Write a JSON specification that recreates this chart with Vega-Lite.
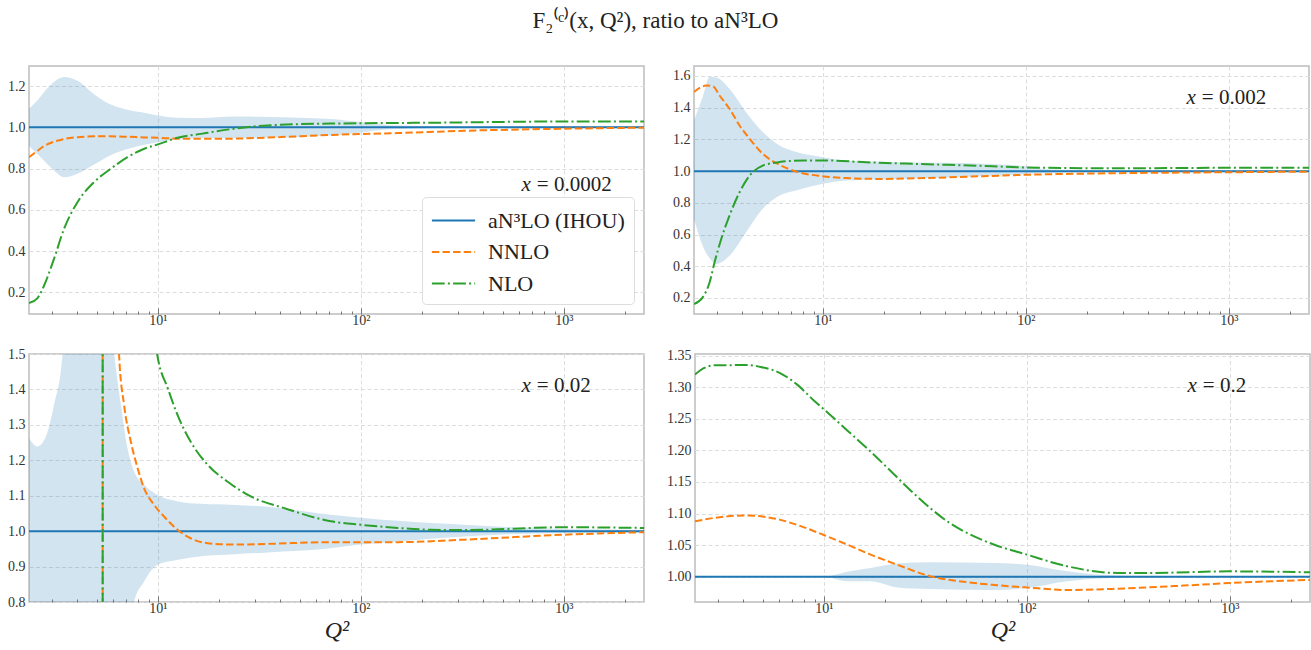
{
 "$schema": "https://vega.github.io/schema/vega-lite/v6.json",
 "padding": {"left": 0, "top": 10, "right": 4, "bottom": 2},
 "background": "white",
 "title": {"text": "F₂⁽ᶜ⁾(x, Q²), ratio to aN³LO", "font": "Liberation Serif", "fontSize": 23, "fontWeight": "normal", "anchor": "middle", "offset": 32, "color": "#222222"},
 "config": {
  "font": "Liberation Serif",
  "view": {"stroke": "#bdbdbd", "strokeWidth": 1.5},
  "axis": {"domain": false, "grid": true, "gridColor": "#dddddd", "gridDash": [4, 2.5], "gridWidth": 1, "labelFont": "Liberation Serif", "labelFontSize": 14, "labelColor": "#333333", "titleFont": "Liberation Serif", "titleFontWeight": "normal", "titleColor": "#222222", "tickColor": "#777777", "tickWidth": 1},
  "text": {"font": "Liberation Serif", "color": "#222222"}
 },
 "datasets": {
  "lines": [
   {"p":"TL","s":"aN³LO (IHOU)","q":2.32,"v":1},{"p":"TL","s":"aN³LO (IHOU)","q":2480,"v":1},
   {"p":"TL","s":"NNLO","q":2.32,"v":0.855},{"p":"TL","s":"NNLO","q":2.55,"v":0.885},{"p":"TL","s":"NNLO","q":2.75,"v":0.909},{"p":"TL","s":"NNLO","q":3.08,"v":0.93},{"p":"TL","s":"NNLO","q":3.45,"v":0.943},{"p":"TL","s":"NNLO","q":4.02,"v":0.952},{"p":"TL","s":"NNLO","q":4.85,"v":0.956},{"p":"TL","s":"NNLO","q":5.86,"v":0.956},{"p":"TL","s":"NNLO","q":7.09,"v":0.954},{"p":"TL","s":"NNLO","q":8.57,"v":0.951},{"p":"TL","s":"NNLO","q":10,"v":0.949},{"p":"TL","s":"NNLO","q":12.5,"v":0.945},{"p":"TL","s":"NNLO","q":16.3,"v":0.944},{"p":"TL","s":"NNLO","q":23.8,"v":0.945},{"p":"TL","s":"NNLO","q":34.7,"v":0.95},{"p":"TL","s":"NNLO","q":71,"v":0.963},{"p":"TL","s":"NNLO","q":152,"v":0.972},{"p":"TL","s":"NNLO","q":323,"v":0.983},{"p":"TL","s":"NNLO","q":1000,"v":0.993},{"p":"TL","s":"NNLO","q":2480,"v":0.998},
   {"p":"TL","s":"NLO","q":2.32,"v":0.148},{"p":"TL","s":"NLO","q":2.55,"v":0.171},{"p":"TL","s":"NLO","q":2.75,"v":0.232},{"p":"TL","s":"NLO","q":3.08,"v":0.362},{"p":"TL","s":"NLO","q":3.45,"v":0.507},{"p":"TL","s":"NLO","q":4.02,"v":0.637},{"p":"TL","s":"NLO","q":4.85,"v":0.734},{"p":"TL","s":"NLO","q":5.86,"v":0.799},{"p":"TL","s":"NLO","q":7.09,"v":0.855},{"p":"TL","s":"NLO","q":8.57,"v":0.896},{"p":"TL","s":"NLO","q":10,"v":0.917},{"p":"TL","s":"NLO","q":12.5,"v":0.949},{"p":"TL","s":"NLO","q":16.3,"v":0.968},{"p":"TL","s":"NLO","q":23.8,"v":0.993},{"p":"TL","s":"NLO","q":34.7,"v":1.009},{"p":"TL","s":"NLO","q":71,"v":1.018},{"p":"TL","s":"NLO","q":221,"v":1.022},{"p":"TL","s":"NLO","q":1000,"v":1.028},{"p":"TL","s":"NLO","q":2480,"v":1.028},

   {"p":"TR","s":"aN³LO (IHOU)","q":2.32,"v":1},{"p":"TR","s":"aN³LO (IHOU)","q":2480,"v":1},
   {"p":"TR","s":"NNLO","q":2.32,"v":1.499},{"p":"TR","s":"NNLO","q":2.52,"v":1.53},{"p":"TR","s":"NNLO","q":2.66,"v":1.54},{"p":"TR","s":"NNLO","q":2.87,"v":1.535},{"p":"TR","s":"NNLO","q":3.1,"v":1.477},{"p":"TR","s":"NNLO","q":3.47,"v":1.393},{"p":"TR","s":"NNLO","q":3.89,"v":1.288},{"p":"TR","s":"NNLO","q":4.36,"v":1.204},{"p":"TR","s":"NNLO","q":5.06,"v":1.109},{"p":"TR","s":"NNLO","q":6.12,"v":1.04},{"p":"TR","s":"NNLO","q":7.39,"v":0.997},{"p":"TR","s":"NNLO","q":10,"v":0.968},{"p":"TR","s":"NNLO","q":13,"v":0.956},{"p":"TR","s":"NNLO","q":19,"v":0.951},{"p":"TR","s":"NNLO","q":33.6,"v":0.957},{"p":"TR","s":"NNLO","q":61.4,"v":0.968},{"p":"TR","s":"NNLO","q":100,"v":0.977},{"p":"TR","s":"NNLO","q":279,"v":0.987},{"p":"TR","s":"NNLO","q":1000,"v":0.993},{"p":"TR","s":"NNLO","q":2480,"v":0.997},
   {"p":"TR","s":"NLO","q":2.32,"v":0.162},{"p":"TR","s":"NLO","q":2.56,"v":0.204},{"p":"TR","s":"NLO","q":2.77,"v":0.299},{"p":"TR","s":"NLO","q":2.93,"v":0.425},{"p":"TR","s":"NLO","q":3.16,"v":0.572},{"p":"TR","s":"NLO","q":3.47,"v":0.72},{"p":"TR","s":"NLO","q":3.89,"v":0.867},{"p":"TR","s":"NLO","q":4.36,"v":0.972},{"p":"TR","s":"NLO","q":5.06,"v":1.035},{"p":"TR","s":"NLO","q":6.12,"v":1.057},{"p":"TR","s":"NLO","q":7.96,"v":1.067},{"p":"TR","s":"NLO","q":10.8,"v":1.067},{"p":"TR","s":"NLO","q":15.7,"v":1.057},{"p":"TR","s":"NLO","q":27.7,"v":1.046},{"p":"TR","s":"NLO","q":68.7,"v":1.031},{"p":"TR","s":"NLO","q":100,"v":1.023},{"p":"TR","s":"NLO","q":279,"v":1.018},{"p":"TR","s":"NLO","q":1000,"v":1.021},{"p":"TR","s":"NLO","q":2480,"v":1.021},

   {"p":"BL","s":"aN³LO (IHOU)","q":2.32,"v":1},{"p":"BL","s":"aN³LO (IHOU)","q":2480,"v":1},
   {"p":"BL","s":"NNLO","q":2.32,"v":-5},{"p":"BL","s":"NNLO","q":4,"v":-10},{"p":"BL","s":"NNLO","q":5.349,"v":-100},{"p":"BL","s":"NNLO","q":5.351,"v":100},{"p":"BL","s":"NNLO","q":5.8,"v":4},{"p":"BL","s":"NNLO","q":6.44,"v":1.5},{"p":"BL","s":"NNLO","q":6.82,"v":1.356},{"p":"BL","s":"NNLO","q":7.36,"v":1.253},{"p":"BL","s":"NNLO","q":7.95,"v":1.178},{"p":"BL","s":"NNLO","q":8.56,"v":1.121},{"p":"BL","s":"NNLO","q":9.59,"v":1.074},{"p":"BL","s":"NNLO","q":10.7,"v":1.042},{"p":"BL","s":"NNLO","q":12.5,"v":1.004},{"p":"BL","s":"NNLO","q":14.5,"v":0.98},{"p":"BL","s":"NNLO","q":17.6,"v":0.966},{"p":"BL","s":"NNLO","q":23.8,"v":0.962},{"p":"BL","s":"NNLO","q":34.7,"v":0.964},{"p":"BL","s":"NNLO","q":71.1,"v":0.969},{"p":"BL","s":"NNLO","q":152,"v":0.969},{"p":"BL","s":"NNLO","q":323,"v":0.976},{"p":"BL","s":"NNLO","q":1000,"v":0.99},{"p":"BL","s":"NNLO","q":2480,"v":0.997},
   {"p":"BL","s":"NLO","q":2.32,"v":-5},{"p":"BL","s":"NLO","q":4,"v":-10},{"p":"BL","s":"NLO","q":5.349,"v":-100},{"p":"BL","s":"NLO","q":5.351,"v":100},{"p":"BL","s":"NLO","q":7,"v":3},{"p":"BL","s":"NLO","q":9,"v":1.7},{"p":"BL","s":"NLO","q":9.97,"v":1.493},{"p":"BL","s":"NLO","q":11.2,"v":1.403},{"p":"BL","s":"NLO","q":12.5,"v":1.328},{"p":"BL","s":"NLO","q":14.5,"v":1.253},{"p":"BL","s":"NLO","q":17.6,"v":1.187},{"p":"BL","s":"NLO","q":22,"v":1.14},{"p":"BL","s":"NLO","q":28.7,"v":1.098},{"p":"BL","s":"NLO","q":41.9,"v":1.065},{"p":"BL","s":"NLO","q":71.1,"v":1.028},{"p":"BL","s":"NLO","q":100,"v":1.018},{"p":"BL","s":"NLO","q":152,"v":1.009},{"p":"BL","s":"NLO","q":221,"v":1.004},{"p":"BL","s":"NLO","q":323,"v":1.003},{"p":"BL","s":"NLO","q":1000,"v":1.011},{"p":"BL","s":"NLO","q":2480,"v":1.009},

   {"p":"BR","s":"aN³LO (IHOU)","q":2.32,"v":1},{"p":"BR","s":"aN³LO (IHOU)","q":2480,"v":1},
   {"p":"BR","s":"NNLO","q":2.32,"v":1.0876},{"p":"BR","s":"NNLO","q":2.87,"v":1.093},{"p":"BR","s":"NNLO","q":4.19,"v":1.097},{"p":"BR","s":"NNLO","q":5.06,"v":1.095},{"p":"BR","s":"NNLO","q":6.12,"v":1.09},{"p":"BR","s":"NNLO","q":7.39,"v":1.082},{"p":"BR","s":"NNLO","q":10,"v":1.066},{"p":"BR","s":"NNLO","q":13,"v":1.051},{"p":"BR","s":"NNLO","q":17,"v":1.035},{"p":"BR","s":"NNLO","q":23,"v":1.019},{"p":"BR","s":"NNLO","q":33.6,"v":1.0006},{"p":"BR","s":"NNLO","q":48.9,"v":0.992},{"p":"BR","s":"NNLO","q":68.7,"v":0.987},{"p":"BR","s":"NNLO","q":100,"v":0.983},{"p":"BR","s":"NNLO","q":158,"v":0.979},{"p":"BR","s":"NNLO","q":279,"v":0.981},{"p":"BR","s":"NNLO","q":593,"v":0.986},{"p":"BR","s":"NNLO","q":1000,"v":0.99},{"p":"BR","s":"NNLO","q":2480,"v":0.995},
   {"p":"BR","s":"NLO","q":2.32,"v":1.32},{"p":"BR","s":"NLO","q":2.56,"v":1.33},{"p":"BR","s":"NLO","q":2.87,"v":1.3345},{"p":"BR","s":"NLO","q":4.19,"v":1.335},{"p":"BR","s":"NLO","q":4.88,"v":1.332},{"p":"BR","s":"NLO","q":6.12,"v":1.322},{"p":"BR","s":"NLO","q":7.39,"v":1.304},{"p":"BR","s":"NLO","q":8.93,"v":1.279},{"p":"BR","s":"NLO","q":10,"v":1.265},{"p":"BR","s":"NLO","q":13,"v":1.232},{"p":"BR","s":"NLO","q":17,"v":1.198},{"p":"BR","s":"NLO","q":23,"v":1.157},{"p":"BR","s":"NLO","q":27.7,"v":1.132},{"p":"BR","s":"NLO","q":33.6,"v":1.108},{"p":"BR","s":"NLO","q":40.4,"v":1.088},{"p":"BR","s":"NLO","q":48.9,"v":1.072},{"p":"BR","s":"NLO","q":68.7,"v":1.051},{"p":"BR","s":"NLO","q":100,"v":1.035},{"p":"BR","s":"NLO","q":158,"v":1.0165},{"p":"BR","s":"NLO","q":279,"v":1.006},{"p":"BR","s":"NLO","q":406,"v":1.006},{"p":"BR","s":"NLO","q":1000,"v":1.0085},{"p":"BR","s":"NLO","q":2480,"v":1.007}
  ],
  "bands": [
   {"p":"TL","q":2.32,"v":0.909,"v2":1.09},{"p":"TL","q":2.55,"v":0.87,"v2":1.13},{"p":"TL","q":2.8,"v":0.83,"v2":1.18},{"p":"TL","q":3.08,"v":0.79,"v2":1.22},{"p":"TL","q":3.45,"v":0.758,"v2":1.244},{"p":"TL","q":4.02,"v":0.775,"v2":1.225},{"p":"TL","q":4.85,"v":0.82,"v2":1.16},{"p":"TL","q":5.86,"v":0.865,"v2":1.11},{"p":"TL","q":7.09,"v":0.895,"v2":1.085},{"p":"TL","q":8.57,"v":0.915,"v2":1.07},{"p":"TL","q":10,"v":0.928,"v2":1.057},{"p":"TL","q":12.5,"v":0.942,"v2":1.046},{"p":"TL","q":16.3,"v":0.948,"v2":1.045},{"p":"TL","q":23.8,"v":0.948,"v2":1.052},{"p":"TL","q":34.7,"v":0.95,"v2":1.05},{"p":"TL","q":71,"v":0.96,"v2":1.04},{"p":"TL","q":100,"v":0.975,"v2":1.025},{"p":"TL","q":140,"v":0.99,"v2":1.01},{"p":"TL","q":250,"v":0.995,"v2":1.005},{"p":"TL","q":2480,"v":0.996,"v2":1.004},
   {"p":"TR","q":2.32,"v":0.7,"v2":1.32},{"p":"TR","q":2.56,"v":0.53,"v2":1.468},{"p":"TR","q":2.77,"v":0.45,"v2":1.593},{"p":"TR","q":2.98,"v":0.415,"v2":1.59},{"p":"TR","q":3.47,"v":0.467,"v2":1.519},{"p":"TR","q":4.19,"v":0.615,"v2":1.372},{"p":"TR","q":5.06,"v":0.762,"v2":1.246},{"p":"TR","q":6.12,"v":0.846,"v2":1.161},{"p":"TR","q":7.39,"v":0.878,"v2":1.12},{"p":"TR","q":10,"v":0.92,"v2":1.088},{"p":"TR","q":13,"v":0.941,"v2":1.067},{"p":"TR","q":23,"v":0.951,"v2":1.057},{"p":"TR","q":61.4,"v":0.968,"v2":1.046},{"p":"TR","q":100,"v":0.982,"v2":1.031},{"p":"TR","q":131,"v":0.99,"v2":1.01},{"p":"TR","q":250,"v":0.995,"v2":1.005},{"p":"TR","q":2480,"v":0.997,"v2":1.003},
   {"p":"BL","q":2.32,"v":0.5,"v2":1.262},{"p":"BL","q":2.55,"v":0.5,"v2":1.239},{"p":"BL","q":2.81,"v":0.5,"v2":1.267},{"p":"BL","q":3.08,"v":0.5,"v2":1.356},{"p":"BL","q":3.39,"v":0.5,"v2":1.497},{"p":"BL","q":3.6,"v":0.5,"v2":1.8},{"p":"BL","q":5.5,"v":0.5,"v2":1.8},{"p":"BL","q":6.1,"v":0.5,"v2":1.5},{"p":"BL","q":6.58,"v":0.55,"v2":1.356},{"p":"BL","q":7.09,"v":0.7,"v2":1.234},{"p":"BL","q":7.64,"v":0.8,"v2":1.168},{"p":"BL","q":8.56,"v":0.858,"v2":1.131},{"p":"BL","q":9.97,"v":0.905,"v2":1.102},{"p":"BL","q":12.6,"v":0.919,"v2":1.084},{"p":"BL","q":16.3,"v":0.929,"v2":1.077},{"p":"BL","q":23.8,"v":0.935,"v2":1.074},{"p":"BL","q":34.7,"v":0.94,"v2":1.069},{"p":"BL","q":71,"v":0.952,"v2":1.046},{"p":"BL","q":100,"v":0.962,"v2":1.038},{"p":"BL","q":152,"v":0.971,"v2":1.029},{"p":"BL","q":323,"v":0.985,"v2":1.018},{"p":"BL","q":1000,"v":0.995,"v2":1.006},{"p":"BL","q":2480,"v":0.996,"v2":1.004},
   {"p":"BR","q":2.32,"v":1,"v2":1},{"p":"BR","q":10,"v":1,"v2":1},{"p":"BR","q":13,"v":0.993,"v2":1.008},{"p":"BR","q":17,"v":0.9927,"v2":1.0138},{"p":"BR","q":23,"v":0.983,"v2":1.021},{"p":"BR","q":33.6,"v":0.9805,"v2":1.023},{"p":"BR","q":68.7,"v":0.979,"v2":1.0217},{"p":"BR","q":100,"v":0.982,"v2":1.019},{"p":"BR","q":158,"v":0.9927,"v2":1.0085},{"p":"BR","q":231,"v":0.997,"v2":1.003},{"p":"BR","q":400,"v":0.999,"v2":1.001},{"p":"BR","q":2480,"v":0.9995,"v2":1.0005}
  ],
  "notes": [
   {"p":"TL","q":711,"v":0.692,"a":"x","b":"= 0.0002"},
   {"p":"TR","q":711,"v":1.425,"a":"x","b":"= 0.002"},
   {"p":"BL","q":711,"v":1.394,"a":"x","b":"= 0.02"},
   {"p":"BR","q":711,"v":1.293,"a":"x","b":"= 0.2"}
  ]
 },
 "spacing": 11,
 "resolve": {"scale": {"x": "independent", "y": "independent", "color": "independent", "strokeDash": "independent"}},
 "vconcat": [
  {
   "spacing": 20,
   "resolve": {"scale": {"x": "independent", "y": "independent", "color": "independent", "strokeDash": "independent"}},
   "hconcat": [
    {
     "width": 615, "height": 248,
     "encoding": {
      "x": {"field": "q", "type": "quantitative", "scale": {"type": "log", "domain": [2.32, 2480], "nice": false},
            "axis": {"title": null, "values": [3,4,5,6,7,8,9,10,20,30,40,50,60,70,80,90,100,200,300,400,500,600,700,800,900,1000,2000], "labelExpr": "datum.value==10?'10¹':datum.value==100?'10²':datum.value==1000?'10³':''", "gridOpacity": {"condition": {"test": "datum.value==10||datum.value==100||datum.value==1000", "value": 1}, "value": 0}, "tickSize": {"condition": {"test": "datum.value==10||datum.value==100||datum.value==1000", "value": -6}, "value": -3}, "labelPadding": 5, "labelOverlap": false, "labelFlush": false, "minExtent": 20, "maxExtent": 20}},
      "y": {"field": "v", "type": "quantitative", "scale": {"domain": [0.095, 1.297], "nice": false, "zero": false},
            "axis": {"title": null, "values": [0.2, 0.4, 0.6, 0.8, 1.0, 1.2], "format": ".1f", "ticks": false, "labelPadding": 4, "minExtent": 28, "maxExtent": 28}}
     },
     "layer": [
      {"data": {"name": "bands"}, "transform": [{"filter": "datum.p=='TL'"}], "mark": {"type": "area", "color": "#1f77b4", "opacity": 0.2, "clip": true, "interpolate": "monotone"}, "encoding": {"y2": {"field": "v2"}}},
      {"data": {"name": "lines"}, "transform": [{"filter": "datum.p=='TL'"}], "mark": {"type": "line", "clip": true, "strokeWidth": 2, "interpolate": "monotone"},
       "encoding": {
        "color": {"field": "s", "type": "nominal", "scale": {"domain": ["aN³LO (IHOU)", "NNLO", "NLO"], "range": ["#1f77b4", "#ff7f0e", "#2ca02c"]},
                  "legend": {"title": null, "orient": "bottom-right", "offset": 10, "symbolType": "M-1.6,0H1.6", "symbolSize": 729, "symbolStrokeWidth": 2, "labelFont": "Liberation Serif", "labelFontSize": 22, "labelColor": "#222222", "padding": 9, "fillColor": "white", "strokeColor": "#dddddd", "cornerRadius": 4, "rowPadding": 5.5, "labelOffset": 20, "symbolOffset": 8}},
        "strokeDash": {"field": "s", "type": "nominal", "scale": {"domain": ["aN³LO (IHOU)", "NNLO", "NLO"], "range": [[1, 0], [7.4, 3.2], [12.8, 3.2, 2, 3.2]]},
                  "legend": {"title": null, "orient": "bottom-right", "offset": 10, "symbolType": "M-1.6,0H1.6", "symbolSize": 729, "symbolStrokeWidth": 2, "labelFont": "Liberation Serif", "labelFontSize": 22, "labelColor": "#222222", "padding": 9, "fillColor": "white", "strokeColor": "#dddddd", "cornerRadius": 4, "rowPadding": 5.5, "labelOffset": 20, "symbolOffset": 8}}
       }},
      {"data": {"name": "notes"}, "transform": [{"filter": "datum.p=='TL'"}], "mark": {"type": "text", "align": "right", "baseline": "alphabetic", "dx": -3, "fontStyle": "italic", "fontSize": 21}, "encoding": {"text": {"field": "a"}}},
      {"data": {"name": "notes"}, "transform": [{"filter": "datum.p=='TL'"}], "mark": {"type": "text", "align": "left", "baseline": "alphabetic", "dx": 3, "fontSize": 21}, "encoding": {"text": {"field": "b"}}}
     ]
    },
    {
     "width": 615, "height": 248,
     "encoding": {
      "x": {"field": "q", "type": "quantitative", "scale": {"type": "log", "domain": [2.32, 2480], "nice": false},
            "axis": {"title": null, "values": [3,4,5,6,7,8,9,10,20,30,40,50,60,70,80,90,100,200,300,400,500,600,700,800,900,1000,2000], "labelExpr": "datum.value==10?'10¹':datum.value==100?'10²':datum.value==1000?'10³':''", "gridOpacity": {"condition": {"test": "datum.value==10||datum.value==100||datum.value==1000", "value": 1}, "value": 0}, "tickSize": {"condition": {"test": "datum.value==10||datum.value==100||datum.value==1000", "value": -6}, "value": -3}, "labelPadding": 5, "labelOverlap": false, "labelFlush": false, "minExtent": 20, "maxExtent": 20}},
      "y": {"field": "v", "type": "quantitative", "scale": {"domain": [0.099, 1.663], "nice": false, "zero": false},
            "axis": {"title": null, "values": [0.2, 0.4, 0.6, 0.8, 1.0, 1.2, 1.4, 1.6], "format": ".1f", "ticks": false, "labelPadding": 4, "minExtent": 28, "maxExtent": 28}}
     },
     "layer": [
      {"data": {"name": "bands"}, "transform": [{"filter": "datum.p=='TR'"}], "mark": {"type": "area", "color": "#1f77b4", "opacity": 0.2, "clip": true, "interpolate": "monotone"}, "encoding": {"y2": {"field": "v2"}}},
      {"data": {"name": "lines"}, "transform": [{"filter": "datum.p=='TR'"}], "mark": {"type": "line", "clip": true, "strokeWidth": 2, "interpolate": "monotone"},
       "encoding": {
        "color": {"field": "s", "type": "nominal", "scale": {"domain": ["aN³LO (IHOU)", "NNLO", "NLO"], "range": ["#1f77b4", "#ff7f0e", "#2ca02c"]}, "legend": null},
        "strokeDash": {"field": "s", "type": "nominal", "scale": {"domain": ["aN³LO (IHOU)", "NNLO", "NLO"], "range": [[1, 0], [7.4, 3.2], [12.8, 3.2, 2, 3.2]]}, "legend": null}
       }},
      {"data": {"name": "notes"}, "transform": [{"filter": "datum.p=='TR'"}], "mark": {"type": "text", "align": "right", "baseline": "alphabetic", "dx": -3, "fontStyle": "italic", "fontSize": 21}, "encoding": {"text": {"field": "a"}}},
      {"data": {"name": "notes"}, "transform": [{"filter": "datum.p=='TR'"}], "mark": {"type": "text", "align": "left", "baseline": "alphabetic", "dx": 3, "fontSize": 21}, "encoding": {"text": {"field": "b"}}}
     ]
    }
   ]
  },
  {
   "spacing": 20,
   "resolve": {"scale": {"x": "independent", "y": "independent", "color": "independent", "strokeDash": "independent"}},
   "hconcat": [
    {
     "width": 615, "height": 248,
     "encoding": {
      "x": {"field": "q", "type": "quantitative", "scale": {"type": "log", "domain": [2.32, 2480], "nice": false},
            "axis": {"title": "Q²", "titleFontSize": 24, "titleFontStyle": "italic", "titlePadding": 0, "values": [3,4,5,6,7,8,9,10,20,30,40,50,60,70,80,90,100,200,300,400,500,600,700,800,900,1000,2000], "labelExpr": "datum.value==10?'10¹':datum.value==100?'10²':datum.value==1000?'10³':''", "gridOpacity": {"condition": {"test": "datum.value==10||datum.value==100||datum.value==1000", "value": 1}, "value": 0}, "tickSize": {"condition": {"test": "datum.value==10||datum.value==100||datum.value==1000", "value": -6}, "value": -3}, "labelPadding": 5, "labelOverlap": false, "labelFlush": false}},
      "y": {"field": "v", "type": "quantitative", "scale": {"domain": [0.8, 1.5], "nice": false, "zero": false},
            "axis": {"title": null, "values": [0.8, 0.9, 1.0, 1.1, 1.2, 1.3, 1.4, 1.5], "format": ".1f", "ticks": false, "labelPadding": 4, "minExtent": 28, "maxExtent": 28}}
     },
     "layer": [
      {"data": {"name": "bands"}, "transform": [{"filter": "datum.p=='BL'"}], "mark": {"type": "area", "color": "#1f77b4", "opacity": 0.2, "clip": true, "interpolate": "monotone"}, "encoding": {"y2": {"field": "v2"}}},
      {"data": {"name": "lines"}, "transform": [{"filter": "datum.p=='BL'"}], "mark": {"type": "line", "clip": true, "strokeWidth": 2, "interpolate": "monotone"},
       "encoding": {
        "color": {"field": "s", "type": "nominal", "scale": {"domain": ["aN³LO (IHOU)", "NNLO", "NLO"], "range": ["#1f77b4", "#ff7f0e", "#2ca02c"]}, "legend": null},
        "strokeDash": {"field": "s", "type": "nominal", "scale": {"domain": ["aN³LO (IHOU)", "NNLO", "NLO"], "range": [[1, 0], [7.4, 3.2], [12.8, 3.2, 2, 3.2]]}, "legend": null}
       }},
      {"data": {"name": "notes"}, "transform": [{"filter": "datum.p=='BL'"}], "mark": {"type": "text", "align": "right", "baseline": "alphabetic", "dx": -3, "fontStyle": "italic", "fontSize": 21}, "encoding": {"text": {"field": "a"}}},
      {"data": {"name": "notes"}, "transform": [{"filter": "datum.p=='BL'"}], "mark": {"type": "text", "align": "left", "baseline": "alphabetic", "dx": 3, "fontSize": 21}, "encoding": {"text": {"field": "b"}}}
     ]
    },
    {
     "width": 615, "height": 248,
     "encoding": {
      "x": {"field": "q", "type": "quantitative", "scale": {"type": "log", "domain": [2.32, 2480], "nice": false},
            "axis": {"title": "Q²", "titleFontSize": 24, "titleFontStyle": "italic", "titlePadding": 0, "values": [3,4,5,6,7,8,9,10,20,30,40,50,60,70,80,90,100,200,300,400,500,600,700,800,900,1000,2000], "labelExpr": "datum.value==10?'10¹':datum.value==100?'10²':datum.value==1000?'10³':''", "gridOpacity": {"condition": {"test": "datum.value==10||datum.value==100||datum.value==1000", "value": 1}, "value": 0}, "tickSize": {"condition": {"test": "datum.value==10||datum.value==100||datum.value==1000", "value": -6}, "value": -3}, "labelPadding": 5, "labelOverlap": false, "labelFlush": false}},
      "y": {"field": "v", "type": "quantitative", "scale": {"domain": [0.96, 1.3525], "nice": false, "zero": false},
            "axis": {"title": null, "values": [1.0, 1.05, 1.1, 1.15, 1.2, 1.25, 1.3, 1.35], "format": ".2f", "ticks": false, "labelPadding": 4, "minExtent": 28, "maxExtent": 28}}
     },
     "layer": [
      {"data": {"name": "bands"}, "transform": [{"filter": "datum.p=='BR'"}], "mark": {"type": "area", "color": "#1f77b4", "opacity": 0.2, "clip": true, "interpolate": "monotone"}, "encoding": {"y2": {"field": "v2"}}},
      {"data": {"name": "lines"}, "transform": [{"filter": "datum.p=='BR'"}], "mark": {"type": "line", "clip": true, "strokeWidth": 2, "interpolate": "monotone"},
       "encoding": {
        "color": {"field": "s", "type": "nominal", "scale": {"domain": ["aN³LO (IHOU)", "NNLO", "NLO"], "range": ["#1f77b4", "#ff7f0e", "#2ca02c"]}, "legend": null},
        "strokeDash": {"field": "s", "type": "nominal", "scale": {"domain": ["aN³LO (IHOU)", "NNLO", "NLO"], "range": [[1, 0], [7.4, 3.2], [12.8, 3.2, 2, 3.2]]}, "legend": null}
       }},
      {"data": {"name": "notes"}, "transform": [{"filter": "datum.p=='BR'"}], "mark": {"type": "text", "align": "right", "baseline": "alphabetic", "dx": -3, "fontStyle": "italic", "fontSize": 21}, "encoding": {"text": {"field": "a"}}},
      {"data": {"name": "notes"}, "transform": [{"filter": "datum.p=='BR'"}], "mark": {"type": "text", "align": "left", "baseline": "alphabetic", "dx": 3, "fontSize": 21}, "encoding": {"text": {"field": "b"}}}
     ]
    }
   ]
  }
 ]
}
